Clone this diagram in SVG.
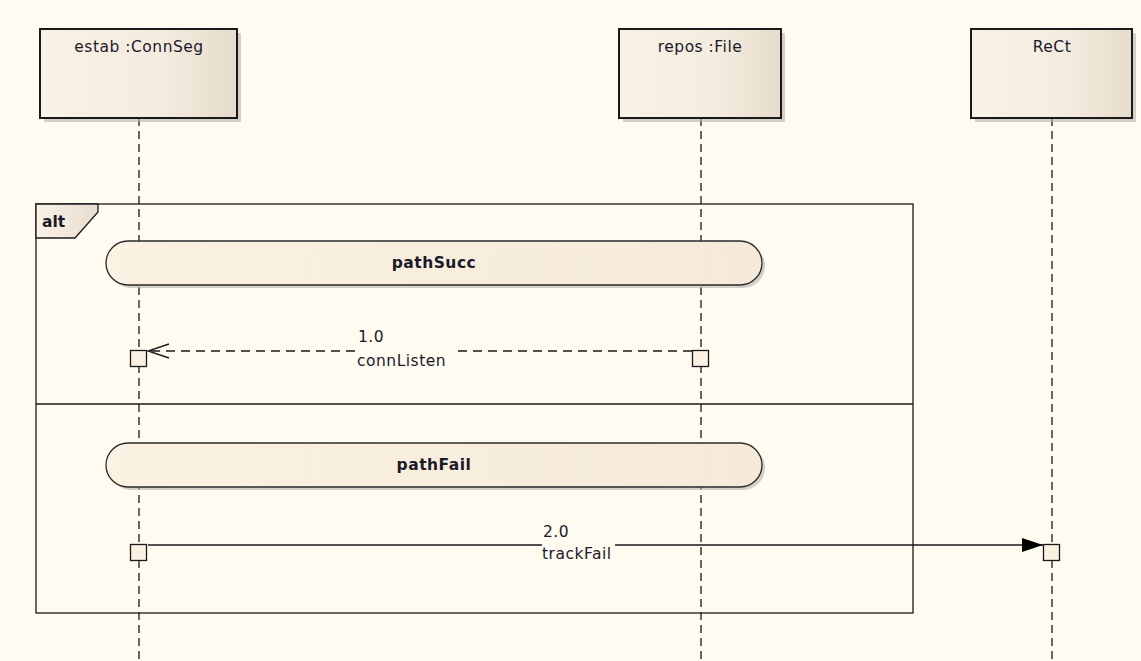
<svg xmlns="http://www.w3.org/2000/svg" width="1141" height="661" viewBox="0 0 1141 661">
<style>
  .lbl{font-family:"DejaVu Sans","Liberation Sans",Arial,sans-serif;font-size:15.5px;letter-spacing:0.5px;fill:#1a1a2a}
  .bold{font-weight:bold}
  .box{fill:url(#gbox);stroke:#1a1a1a;stroke-width:2}
  .shadow{fill:#b8b4ac;opacity:0.6}
  .life{stroke:#1a1a1a;stroke-width:1.3;stroke-dasharray:8,5;fill:none}
  .act{fill:#fbf1e3;stroke:#1a1a1a;stroke-width:1.3}
  .state{fill:url(#gstate);stroke:#2a2a2a;stroke-width:1.3}
  .msg{stroke:#1a1a1a;stroke-width:1.3;fill:none}
</style>
<defs>
  <linearGradient id="gbox" x1="0" y1="0" x2="1" y2="0">
    <stop offset="0" stop-color="#f9f2e6"/>
    <stop offset="0.6" stop-color="#f4ecdf"/>
    <stop offset="1" stop-color="#e6dccd"/>
  </linearGradient>
  <linearGradient id="gstate" x1="0" y1="0" x2="1" y2="0">
    <stop offset="0" stop-color="#fbf2e3"/>
    <stop offset="1" stop-color="#f5ead9"/>
  </linearGradient>
  <linearGradient id="gtab" x1="0" y1="0" x2="1" y2="0">
    <stop offset="0" stop-color="#f9f2e6"/>
    <stop offset="1" stop-color="#e8decf"/>
  </linearGradient>
  <marker id="open" markerWidth="24" markerHeight="18" refX="22" refY="9" orient="auto" markerUnits="userSpaceOnUse">
    <path d="M1,2 L22,9 L1,16" fill="none" stroke="#1a1a1a" stroke-width="1.4"/>
  </marker>
  <marker id="filled" markerWidth="22" markerHeight="16" refX="21" refY="8" orient="auto" markerUnits="userSpaceOnUse">
    <path d="M0,1 L21,8 L0,15 Z" fill="#000"/>
  </marker>
</defs>
<rect width="1141" height="661" fill="#fffbf0"/>

<!-- alt fragment -->
<g id="alt">
  <rect x="36" y="204" width="877" height="409" fill="none" stroke="#1a1a1a" stroke-width="1.3"/>
  <path d="M36,204 L98,204 L98,212 L75,238 L36,238 Z" fill="url(#gtab)" stroke="#1a1a1a" stroke-width="1.3"/>
  <text x="42" y="227" class="lbl bold" style="letter-spacing:0">alt</text>
  <line x1="36" y1="404" x2="913" y2="404" stroke="#1a1a1a" stroke-width="1.3"/>
</g>

<!-- lifelines -->
<g id="lifelines">
  <line x1="139" y1="118" x2="139" y2="661" class="life"/>
  <line x1="701" y1="118" x2="701" y2="661" class="life"/>
  <line x1="1052" y1="118" x2="1052" y2="661" class="life"/>
</g>

<g id="estab">
  <rect x="44" y="33" width="197" height="89" class="shadow"/>
  <rect x="40" y="29" width="197" height="89" class="box"/>
  <text x="139" y="52" text-anchor="middle" class="lbl">estab :ConnSeg</text>
</g>
<g id="repos">
  <rect x="623" y="33" width="162" height="89" class="shadow"/>
  <rect x="619" y="29" width="162" height="89" class="box"/>
  <text x="700" y="52" text-anchor="middle" class="lbl">repos :File</text>
</g>
<g id="rect">
  <rect x="975" y="33" width="161" height="89" class="shadow"/>
  <rect x="971" y="29" width="161" height="89" class="box"/>
  <text x="1052" y="52" text-anchor="middle" class="lbl">ReCt</text>
</g>

<g id="pathSucc">
  <rect x="109" y="244" width="656" height="44" rx="22" ry="22" class="shadow"/>
  <rect x="106" y="241" width="656" height="44" rx="22" ry="22" class="state"/>
  <text x="434" y="268" text-anchor="middle" class="lbl bold">pathSucc</text>
</g>
<g id="pathFail">
  <rect x="109" y="446" width="656" height="44" rx="22" ry="22" class="shadow"/>
  <rect x="106" y="443" width="656" height="44" rx="22" ry="22" class="state"/>
  <text x="434" y="470" text-anchor="middle" class="lbl bold">pathFail</text>
</g>

<!-- connectors -->
<g id="connectors">
  <path d="M692,351 L455,351 M355,351 L148,351" class="msg" stroke-dasharray="9,6" marker-end="url(#open)"/>
  <path d="M148,545 L542,545 M615,545 L1043,545" class="msg" marker-end="url(#filled)"/>
</g>

<g id="activations">
  <rect x="130.5" y="350.5" width="16" height="16" class="act"/>
  <rect x="692.5" y="350.5" width="16" height="16" class="act"/>
  <rect x="130.5" y="544.5" width="16" height="16" class="act"/>
  <rect x="1043.5" y="544.5" width="16" height="16" class="act"/>
</g>

<g id="labels">
  <text x="358" y="342" class="lbl">1.0</text>
  <text x="357" y="366" class="lbl">connListen</text>
  <text x="543" y="537" class="lbl">2.0</text>
  <text x="542" y="559" class="lbl">trackFail</text>
</g>
</svg>
